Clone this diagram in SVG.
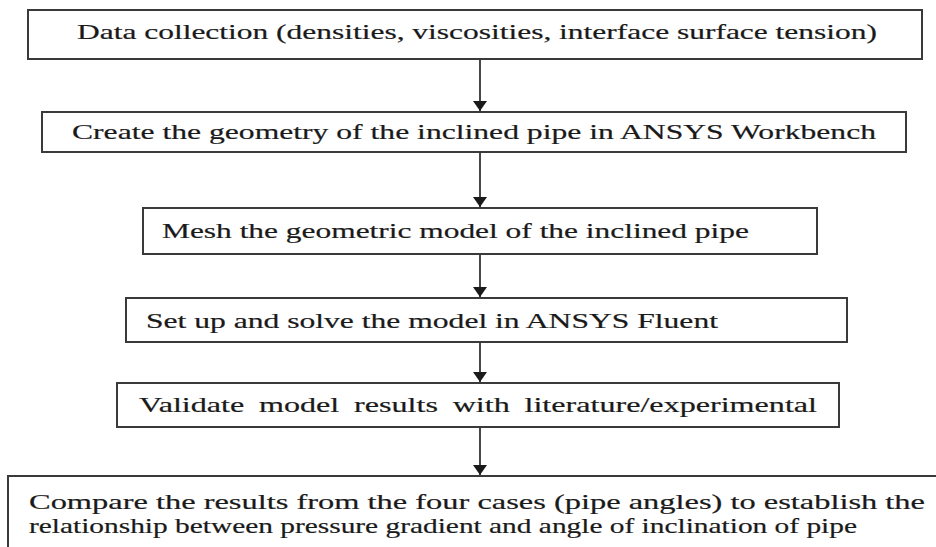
<svg xmlns="http://www.w3.org/2000/svg" width="936" height="547" viewBox="0 0 936 547">
  <defs>
    <style>
      .box { fill: #ffffff; stroke: #3a3a3a; stroke-width: 2; }
      .open { fill: none; stroke: #3a3a3a; stroke-width: 2; }
      .lbl { font-family: "Liberation Serif", "Times New Roman", serif; font-size: 22px; fill: #1a1a1a; stroke: #1a1a1a; stroke-width: 0.2; }
      .conn { stroke: #1a1a1a; stroke-width: 1.6; fill: none; }
    </style>
    <marker id="arrow" viewBox="0 0 10 14" refX="10" refY="7" markerWidth="10" markerHeight="14" markerUnits="userSpaceOnUse" orient="auto">
      <path d="M0,0 L10,7 L0,14 Z" fill="#1a1a1a"/>
    </marker>
  </defs>
  <rect x="0" y="0" width="936" height="547" fill="#ffffff"/>

  <g id="connectors">
    <line class="conn" x1="480" y1="59" x2="480" y2="111" marker-end="url(#arrow)"/>
    <line class="conn" x1="480" y1="152" x2="480" y2="207" marker-end="url(#arrow)"/>
    <line class="conn" x1="480" y1="254" x2="480" y2="297" marker-end="url(#arrow)"/>
    <line class="conn" x1="480" y1="342" x2="480" y2="382" marker-end="url(#arrow)"/>
    <line class="conn" x1="480" y1="427" x2="480" y2="475" marker-end="url(#arrow)"/>
  </g>

  <g id="node-data-collection">
    <rect class="box" x="28" y="10" width="894" height="49"/>
    <text class="lbl" transform="translate(77 0) scale(1.5 1)" x="0" y="39" textLength="533.3" lengthAdjust="spacingAndGlyphs">Data collection (densities, viscosities, interface surface tension)</text>
  </g>

  <g id="node-geometry">
    <rect class="box" x="42" y="112" width="864" height="40"/>
    <text class="lbl" transform="translate(72 0) scale(1.5 1)" x="0" y="139" textLength="536" lengthAdjust="spacingAndGlyphs">Create the geometry of the inclined pipe in ANSYS Workbench</text>
  </g>

  <g id="node-mesh">
    <rect class="box" x="143" y="208" width="674" height="46"/>
    <text class="lbl" transform="translate(162 0) scale(1.5 1)" x="0" y="238" textLength="391.3" lengthAdjust="spacingAndGlyphs">Mesh the geometric model of the inclined pipe</text>
  </g>

  <g id="node-solve">
    <rect class="box" x="126" y="298" width="721" height="44"/>
    <text class="lbl" transform="translate(146 0) scale(1.5 1)" x="0" y="328" textLength="381.3" lengthAdjust="spacingAndGlyphs">Set up and solve the model in ANSYS Fluent</text>
  </g>

  <g id="node-validate">
    <rect class="box" x="117" y="383" width="722" height="44"/>
    <text class="lbl" transform="translate(139 0) scale(1.5 1)" x="0" y="412" textLength="452" lengthAdjust="spacingAndGlyphs" style="word-spacing:4.6px">Validate model results with literature/experimental</text>
  </g>

  <g id="node-compare">
    <path class="open" d="M936 476 H8 V547"/>
    <text class="lbl" transform="translate(29 0) scale(1.5 1)" x="0" y="509" textLength="597.3" lengthAdjust="spacingAndGlyphs">Compare the results from the four cases (pipe angles) to establish the</text>
    <text class="lbl" transform="translate(29 0) scale(1.5 1)" x="0" y="533" textLength="552" lengthAdjust="spacingAndGlyphs">relationship between pressure gradient and angle of inclination of pipe</text>
  </g>
</svg>
